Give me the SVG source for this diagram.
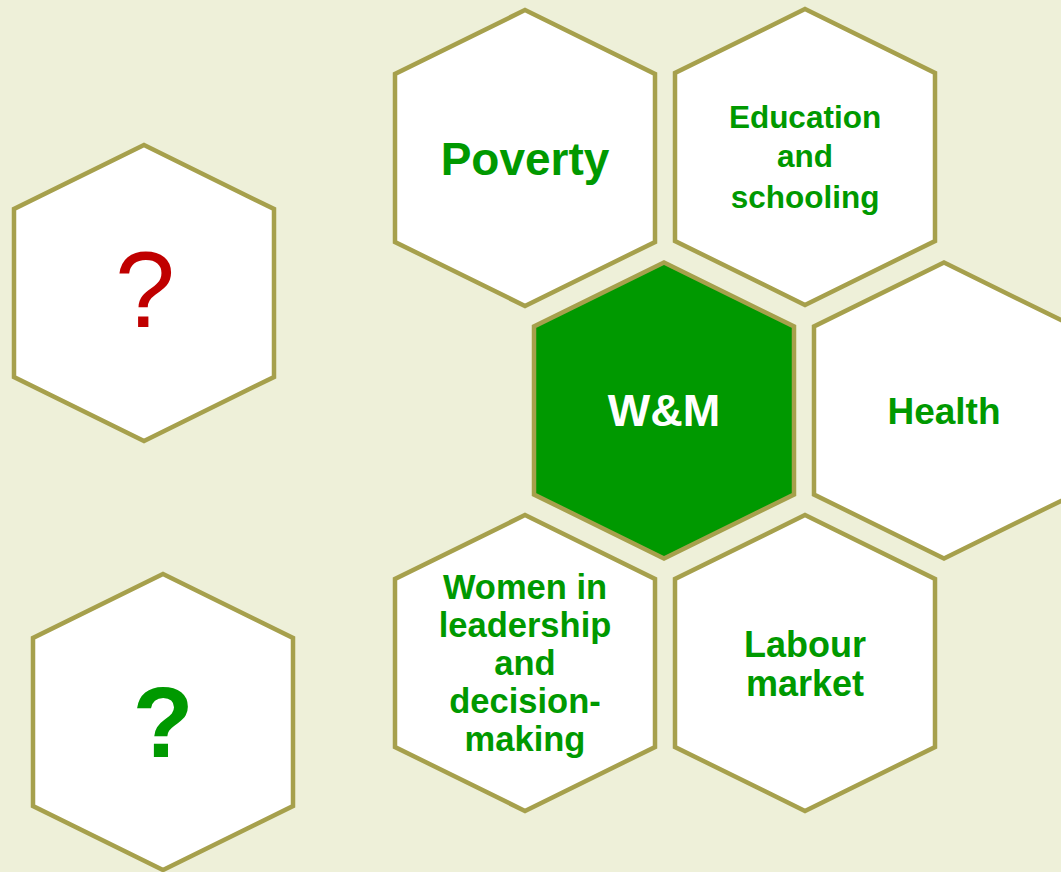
<svg xmlns="http://www.w3.org/2000/svg" width="1061" height="872" viewBox="0 0 1061 872">
<defs>
<style>
.hex{fill:#FFFFFF;stroke:#A6A04C;stroke-width:4.5;stroke-linejoin:miter}
.hexc{fill:#009900;stroke:#A6A04C;stroke-width:4.5}
.t{font-family:"Liberation Sans",Arial,sans-serif;font-weight:bold;fill:#009900;text-anchor:middle}
</style>
<path id="hx" d="M0,-148 L130,-84 L130,84 L0,148 L-130,84 L-130,-84 Z"/>
</defs>
<rect width="1061" height="872" fill="#EEF0D9"/>
<g id="connectors"/>
<g id="q-red" transform="translate(144,293)">
<use href="#hx" class="hex"/>
<text x="1" y="34" style="font-family:'Liberation Sans',Arial,sans-serif;font-size:108px;fill:#C00000;text-anchor:middle">?</text>
</g>
<g id="q-green" transform="translate(163,722)">
<use href="#hx" class="hex"/>
<text class="t" x="0" y="35" style="font-size:100px">?</text>
</g>
<g id="poverty" transform="translate(525,158)">
<use href="#hx" class="hex"/>
<text class="t" x="0" y="17" style="font-size:46px">Poverty</text>
</g>
<g id="education" transform="translate(805,157)">
<use href="#hx" class="hex"/>
<text class="t" style="font-size:31.5px"><tspan x="0" y="-29">Education</tspan><tspan x="0" y="10">and</tspan><tspan x="0" y="51">schooling</tspan></text>
</g>
<g id="wm" transform="translate(664,410.5)">
<use href="#hx" class="hexc"/>
<text class="t" x="0" y="15.5" style="font-size:45px;fill:#FFFFFF">W&amp;M</text>
</g>
<g id="health" transform="translate(944,410.5)">
<use href="#hx" class="hex"/>
<text class="t" x="0" y="13.5" style="font-size:37px">Health</text>
</g>
<g id="women" transform="translate(525,663)">
<use href="#hx" class="hex"/>
<text class="t" style="font-size:34.5px"><tspan x="0" y="-64">Women in</tspan><tspan x="0" y="-26">leadership</tspan><tspan x="0" y="12">and</tspan><tspan x="0" y="50">decision-</tspan><tspan x="0" y="88">making</tspan></text>
</g>
<g id="labour" transform="translate(805,663)">
<use href="#hx" class="hex"/>
<text class="t" style="font-size:36px"><tspan x="0" y="-6">Labour</tspan><tspan x="0" y="33">market</tspan></text>
</g>
</svg>
